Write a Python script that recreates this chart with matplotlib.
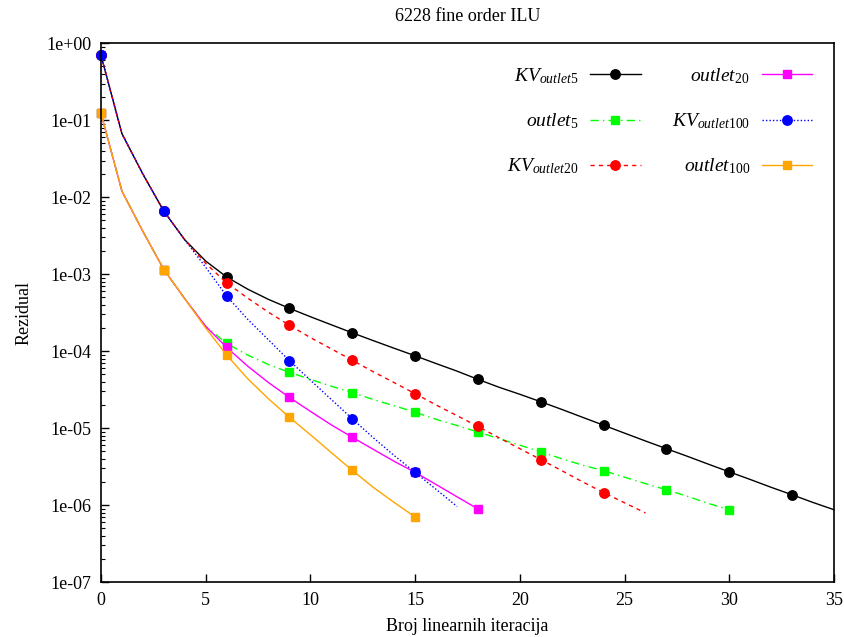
import numpy as np
import matplotlib
matplotlib.use('Agg')
import matplotlib.pyplot as plt
from matplotlib.ticker import FixedLocator, LogLocator, FuncFormatter, NullFormatter

plt.rcParams['font.family'] = ['Liberation Serif', 'DejaVu Serif']
plt.rcParams['mathtext.fontset'] = 'custom'
plt.rcParams['mathtext.rm'] = 'Liberation Serif'
plt.rcParams['mathtext.it'] = 'Liberation Serif:italic'

# reziduali po iteraciji (ocitano sa slike)
kv_outlet5 = [0.70, 0.067, 0.020, 6.6e-3, 2.8e-3, 1.48e-3, 9.2e-4, 6.4e-4, 4.7e-4, 3.6e-4,
              2.8e-4, 2.2e-4, 1.73e-4, 1.37e-4, 1.09e-4, 8.7e-5, 6.9e-5, 5.5e-5, 4.3e-5, 3.4e-5,
              2.75e-5, 2.2e-5, 1.75e-5, 1.38e-5, 1.09e-5, 8.6e-6, 6.8e-6, 5.4e-6, 4.3e-6, 3.4e-6,
              2.7e-6, 2.15e-6, 1.7e-6, 1.36e-6, 1.08e-6, 8.7e-7]
outlet5 = [0.123, 0.012, 3.6e-3, 1.15e-3, 4.8e-4, 2.1e-4, 1.26e-4, 8.9e-5, 6.7e-5, 5.3e-5,
           4.3e-5, 3.5e-5, 2.9e-5, 2.35e-5, 1.95e-5, 1.61e-5, 1.3e-5, 1.08e-5, 8.9e-6, 7.3e-6,
           6.0e-6, 4.9e-6, 4.0e-6, 3.3e-6, 2.8e-6, 2.3e-6, 1.9e-6, 1.58e-6, 1.3e-6, 1.05e-6, 8.7e-7]
kv_outlet20 = [0.70, 0.067, 0.020, 6.6e-3, 2.8e-3, 1.38e-3, 7.7e-4, 4.9e-4, 3.2e-4, 2.17e-4,
               1.5e-4, 1.07e-4, 7.6e-5, 5.4e-5, 3.9e-5, 2.8e-5, 2.0e-5, 1.45e-5, 1.05e-5, 7.5e-6,
               5.4e-6, 3.9e-6, 2.8e-6, 2.0e-6, 1.45e-6, 1.07e-6, 7.9e-7]
outlet20 = [0.123, 0.012, 3.6e-3, 1.15e-3, 4.8e-4, 2.1e-4, 1.12e-4, 6.4e-5, 3.9e-5, 2.5e-5,
            1.65e-5, 1.1e-5, 7.6e-6, 5.3e-6, 3.7e-6, 2.66e-6, 1.85e-6, 1.28e-6, 8.9e-7]
kv_outlet100 = [0.70, 0.067, 0.020, 6.6e-3, 2.8e-3, 1.23e-3, 5.2e-4, 2.6e-4, 1.4e-4, 7.5e-5,
                4.2e-5, 2.35e-5, 1.32e-5, 7.5e-6, 4.4e-6, 2.66e-6, 1.6e-6, 9.6e-7]
outlet100 = [0.123, 0.012, 3.6e-3, 1.15e-3, 4.8e-4, 2.0e-4, 8.9e-5, 4.4e-5, 2.4e-5, 1.38e-5,
             8.2e-6, 4.8e-6, 2.82e-6, 1.7e-6, 1.08e-6, 7.0e-7]

x_ticks = [0, 5, 10, 15, 20, 25, 30, 35]
y_ticks = [1e0, 1e-1, 1e-2, 1e-3, 1e-4, 1e-5, 1e-6, 1e-7]


def main():
    fig = plt.figure(figsize=(8.45, 6.37), dpi=100)
    ax = fig.add_axes([0.1195, 0.0863, 0.8675, 0.8457])

    series = [
        (kv_outlet5, r'$KV_{outlet5}$', 'black', '-', 'o'),
        (outlet5, r'$outlet_{5}$', '#00ff00', (0, (6, 3, 1, 3)), 's'),
        (kv_outlet20, r'$KV_{outlet20}$', 'red', (0, (3, 3)), 'o'),
        (outlet20, r'$outlet_{20}$', 'magenta', '-', 's'),
        (kv_outlet100, r'$KV_{outlet100}$', 'blue', (0, (1, 1.5)), 'o'),
        (outlet100, r'$outlet_{100}$', 'orange', '-', 's'),
    ]
    for yy, label, color, ls, mk in series:
        xx = np.arange(len(yy))
        ax.plot(xx, yy, linestyle=ls, color=color, lw=1.0, marker=mk, markevery=3,
                ms=6.8 if mk == 'o' else 6.3, mec=color, mfc=color, label=label,
                clip_on=False)

    ax.set_yscale('log')
    ax.set_xlim(0, 35)
    ax.set_ylim(1e-7, 1e0)
    ax.xaxis.set_major_locator(FixedLocator(x_ticks))
    ax.yaxis.set_major_locator(FixedLocator(y_ticks))
    ax.yaxis.set_major_formatter(FuncFormatter(lambda v, p: '%.0e' % v))
    ax.yaxis.set_minor_locator(LogLocator(base=10, subs=np.arange(2, 10)))
    ax.yaxis.set_minor_formatter(NullFormatter())

    ax.tick_params(which='both', direction='in', labelsize=13, top=False, right=False)
    ax.tick_params(which='major', length=6, width=1.0, pad=7)
    ax.tick_params(which='minor', length=3, width=0.8)
    for s in ax.spines.values():
        s.set_linewidth(1.2)

    ax.set_title('6228 fine order ILU', fontsize=13, pad=16)
    ax.set_xlabel('Broj linearnih iteracija', fontsize=13, labelpad=7)
    ax.set_ylabel('Rezidual', fontsize=13, labelpad=10)

    ax.legend(ncol=2, frameon=False, markerfirst=False, fontsize=14, handlelength=2.6,
              labelspacing=1.31, columnspacing=1.6, handletextpad=0.6,
              loc='upper right', bbox_to_anchor=(0.994, 0.99), numpoints=1)

    fig.savefig('out.png', dpi=100)


if __name__ == '__main__':
    main()
